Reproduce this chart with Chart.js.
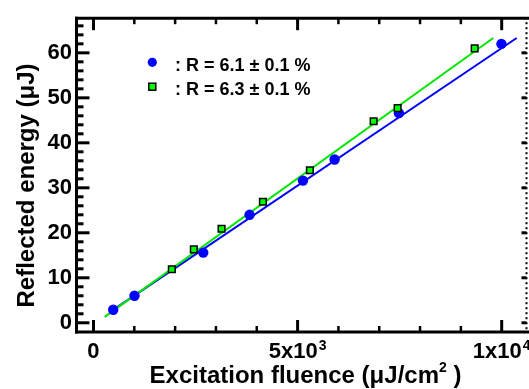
<!DOCTYPE html>
<html>
<head>
<meta charset="utf-8">
<script src="https://cdn.jsdelivr.net/npm/chart.js@4.4.1/dist/chart.umd.min.js"></script>
<style>
  html, body { margin: 0; padding: 0; background: #fff; }
  #wrap { width: 529px; height: 389px; }
</style>
</head>
<body>
<div id="wrap"><canvas id="fluenceChart" width="529" height="389"></canvas></div>
<script>
// measured points (fluence in uJ/cm2, energy in uJ)
const blueX = [483, 1005, 2689, 3824, 5131, 5907, 7483, 9993];
const blueY = [2.9, 6.0, 15.6, 24.0, 31.6, 36.3, 46.6, 62.0];
const greenX = [1919, 2458, 3137, 4150, 5301, 6863, 7451, 9338];
const greenY = [11.9, 16.3, 20.9, 26.9, 33.9, 44.8, 47.7, 61.0];

// linear fits, drawn as two end points each
const blueFitX = [400, 10367];
const blueFitY = [2.37, 63.3];
const greenFitX = [274, 9794];
const greenFitY = [1.32, 63.3];

const yMajorTicks = [0, 10, 20, 30, 40, 50, 60];
const yMinorTicks = [-2, 2, 4, 6, 8, 12, 14, 16, 18, 22, 24, 26, 28, 32, 34, 36, 38, 42, 44, 46, 48, 52, 54, 56, 58, 62, 64, 66];
const xMajorTicks = [0, 5000, 10000];
const xMinorTicks = [1000, 2000, 3000, 4000, 6000, 7000, 8000, 9000];
const xTickBase = ['0', '5x10', '1x10'];
const xTickExp = ['', '3', '4'];
const legendLabels = [': R = 6.1 \u00b1 0.1 %', ': R = 6.3 \u00b1 0.1 %'];

const BLUE = '#0000ff';
const GREEN = '#00ff00';
const GREEN_LINE = '#00e600';
const FONT = '"Liberation Sans", Arial, sans-serif';

const toPoints = (xs, ys) => xs.map((x, i) => ({ x: x, y: ys[i] }));

const framePlugin = {
  id: 'frame',
  afterDatasetsDraw(chart) {
    const ctx = chart.ctx;
    const ca = chart.chartArea;
    const xs = chart.scales.x;
    const ys = chart.scales.y;
    const W = chart.width;
    const L = ca.left - 0.5, T = ca.top, B = ca.bottom, R = ca.right - 0.5;

    ctx.save();
    ctx.strokeStyle = '#000';
    ctx.fillStyle = '#000';
    ctx.lineWidth = 3;
    ctx.lineCap = 'butt';

    const seg = (x1, y1, x2, y2) => {
      ctx.beginPath();
      ctx.moveTo(x1, y1);
      ctx.lineTo(x2, y2);
      ctx.stroke();
    };

    // solid left, top and bottom axes
    seg(L, T - 1.5, L, B + 1.5);
    seg(L - 1.5, T, W, T);
    seg(L - 1.5, B, W, B);

    // dotted right axis
    for (let y = T + 5; y < B - 2; y += 5) {
      ctx.fillRect(R - 1, y - 1, 2, 2);
    }

    // y ticks (inward)
    yMajorTicks.forEach(v => {
      const y = ys.getPixelForValue(v);
      seg(L, y, L + 13, y);
      seg(R, y, R - 5, y);
    });
    yMinorTicks.forEach(v => {
      const y = ys.getPixelForValue(v);
      if (y > T + 2 && y < B - 2) seg(L, y, L + 7, y);
    });

    // x ticks bottom and top
    xMajorTicks.forEach(v => {
      const x = xs.getPixelForValue(v);
      seg(x, B, x, B - 12);
      seg(x, T, x, T + 12);
    });
    ctx.lineWidth = 2.5;
    xMinorTicks.forEach(v => {
      const x = xs.getPixelForValue(v);
      seg(x, B, x, B - 6);
      seg(x, T, x, T + 6);
    });

    // x tick labels with superscript exponents
    ctx.textBaseline = 'alphabetic';
    xMajorTicks.forEach((v, i) => {
      const x = xs.getPixelForValue(v);
      ctx.font = 'bold 22px ' + FONT;
      const wb = ctx.measureText(xTickBase[i]).width;
      ctx.font = 'bold 14px ' + FONT;
      const we = xTickExp[i] ? ctx.measureText(xTickExp[i]).width + 1 : 0;
      const x0 = x - (wb + we) / 2;
      ctx.textAlign = 'left';
      ctx.font = 'bold 22px ' + FONT;
      ctx.fillText(xTickBase[i], x0, 358);
      if (xTickExp[i]) {
        ctx.font = 'bold 14px ' + FONT;
        ctx.fillText(xTickExp[i], x0 + wb + 1, 350);
      }
    });

    // x title
    const t1 = 'Excitation fluence (\u03bcJ/cm', t2 = '2', t3 = ' )';
    ctx.font = 'bold 24px ' + FONT;
    const w1 = ctx.measureText(t1).width;
    const w3 = ctx.measureText(t3).width;
    ctx.font = 'bold 14px ' + FONT;
    const w2 = ctx.measureText(t2).width;
    const tx = 305.5 - (w1 + w2 + w3) / 2;
    ctx.font = 'bold 24px ' + FONT;
    ctx.fillText(t1, tx, 383);
    ctx.font = 'bold 14px ' + FONT;
    ctx.fillText(t2, tx + w1, 372);
    ctx.font = 'bold 24px ' + FONT;
    ctx.fillText(t3, tx + w1 + w2, 383);

    // y title
    ctx.save();
    ctx.translate(34, 185.5);
    ctx.rotate(-Math.PI / 2);
    ctx.textAlign = 'center';
    ctx.font = 'bold 24px ' + FONT;
    ctx.fillText('Reflected energy (\u03bcJ)', 0, 0);
    ctx.restore();

    // legend
    ctx.fillStyle = BLUE;
    ctx.beginPath();
    ctx.arc(152.3, 62.3, 4.6, 0, Math.PI * 2);
    ctx.fill();
    ctx.fillStyle = GREEN;
    ctx.lineWidth = 1.5;
    ctx.fillRect(148.8, 83.2, 7, 7);
    ctx.strokeRect(148.8, 83.2, 7, 7);
    ctx.fillStyle = '#000';
    ctx.textAlign = 'left';
    ctx.font = 'bold 18px ' + FONT;
    ctx.fillText(legendLabels[0], 175, 71);
    ctx.fillText(legendLabels[1], 175, 94.5);

    ctx.restore();
  }
};

const fluenceChart = new Chart(document.getElementById('fluenceChart').getContext('2d'), {
  type: 'scatter',
  data: {
    datasets: [
      {
        label: 'R = 6.3 %',
        data: toPoints(greenX, greenY),
        pointStyle: 'rect',
        pointRadius: 4.7,
        backgroundColor: GREEN,
        borderColor: '#000',
        borderWidth: 1.5,
        order: 0
      },
      {
        label: 'R = 6.1 %',
        data: toPoints(blueX, blueY),
        pointStyle: 'circle',
        pointRadius: 5.2,
        backgroundColor: BLUE,
        borderColor: BLUE,
        borderWidth: 0,
        order: 1
      },
      {
        label: 'fit 6.3',
        data: toPoints(greenFitX, greenFitY),
        showLine: true,
        pointRadius: 0,
        borderColor: GREEN_LINE,
        borderWidth: 2,
        order: 2
      },
      {
        label: 'fit 6.1',
        data: toPoints(blueFitX, blueFitY),
        showLine: true,
        pointRadius: 0,
        borderColor: BLUE,
        borderWidth: 2,
        order: 3
      }
    ]
  },
  options: {
    responsive: false,
    animation: false,
    layout: { autoPadding: false, padding: { top: 15, right: 2, left: 0, bottom: 0 } },
    plugins: {
      legend: { display: false },
      tooltip: { enabled: false }
    },
    scales: {
      x: {
        type: 'linear',
        min: -404,
        max: 10620,
        grid: { display: false },
        border: { display: false },
        ticks: { display: false },
        afterFit: s => { s.height = 57; }
      },
      y: {
        type: 'linear',
        min: -2.05,
        max: 67.7,
        grid: { display: false, drawTicks: false },
        border: { display: false },
        ticks: {
          stepSize: 10,
          includeBounds: false,
          padding: 5,
          color: '#000',
          font: { family: FONT, size: 22, weight: 'bold' }
        },
        afterFit: s => { s.width = 77; }
      }
    }
  },
  plugins: [framePlugin]
});
</script>
</body>
</html>
